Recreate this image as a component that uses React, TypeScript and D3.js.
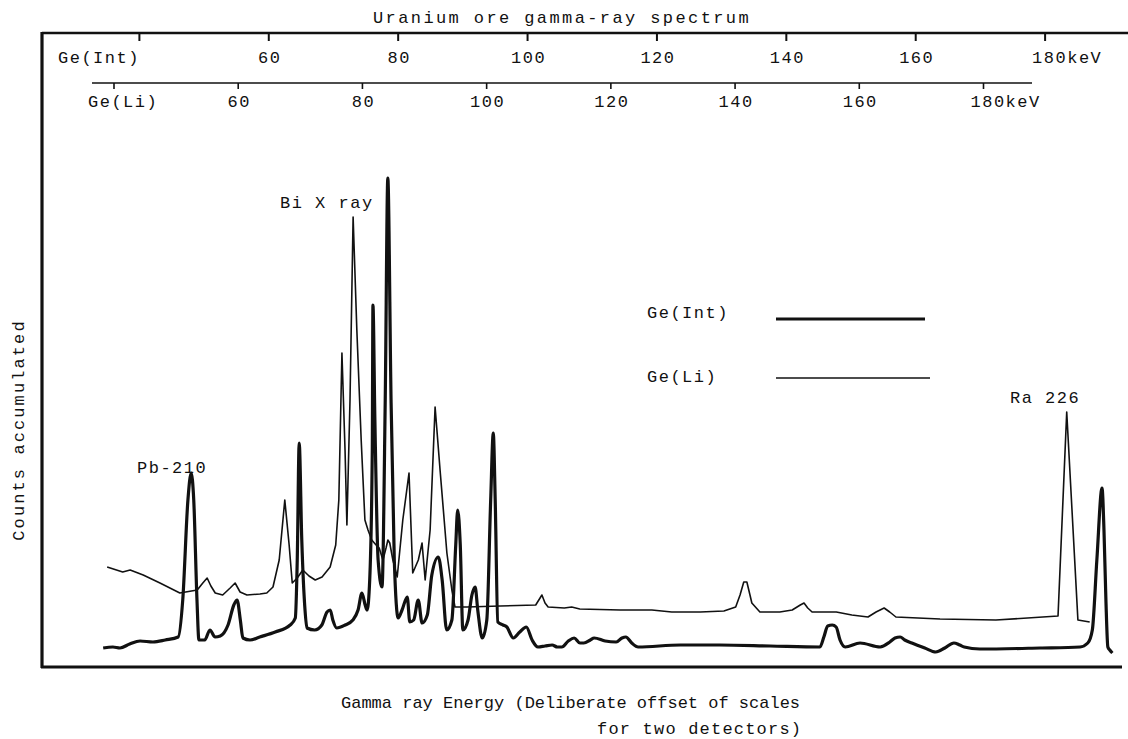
import React from 'react';
import * as d3 from 'd3';

const W = 1128;
const H = 739;

const tickValues = [40, 60, 80, 100, 120, 140, 160, 180];
const intTickLabels = ['', '60', '80', '100', '120', '140', '160', '180keV'];
const liTickLabels = ['', '60', '80', '100', '120', '140', '160', '180keV'];

// Ge(Int) spectrum (thick line), energy in keV on the Ge(Int) scale
const intEnergy = [
  34.4, 35.9, 37.0, 38.5, 40.1, 42.1, 44.0, 46.0, 46.7, 47.5,
  48.0, 48.4, 48.9, 49.2, 50.1, 50.9, 51.7, 52.5, 53.7, 54.6,
  55.1, 55.6, 56.0, 57.1, 58.6, 61.0, 63.3, 64.1, 64.4, 64.7,
  65.1, 65.6, 65.9, 67.1, 68.2, 69.0, 69.5, 69.9, 70.5, 71.8,
  73.0, 73.8, 74.4, 74.9, 75.2, 75.6, 76.0, 76.1, 76.4, 76.9,
  77.5, 78.0, 78.4, 78.9, 79.4, 80.0, 80.6, 81.4, 81.8, 82.4,
  83.1, 83.7, 84.5, 85.2, 86.2, 86.8, 87.5, 88.3, 88.9, 89.2,
  89.6, 90.0, 90.8, 91.4, 91.9, 92.3, 93.0, 93.7, 94.3, 94.7,
  95.0, 95.4, 96.2, 96.8, 97.8, 98.8, 99.8, 100.7, 101.6, 102.7,
  103.8, 104.6, 105.3, 106.3, 107.2, 108.1, 108.7, 109.7, 110.3, 112.0,
  113.7, 114.6, 115.2, 116.1, 117.1, 123.6, 129.7, 137.5, 145.2, 145.8,
  146.4, 147.1, 147.7, 148.3, 149.1, 151.4, 154.5, 156.0, 156.8, 157.6,
  158.3, 159.4, 161.4, 163.1, 164.5, 165.9, 166.8, 167.5, 169.9, 179.2,
  185.4, 186.6, 187.3, 188.0, 188.8, 189.1, 189.4, 189.7, 190.0, 190.4,
];
const intCounts = [
  19, 20, 19, 23, 26, 25, 27, 30, 67, 167,
  194, 167, 67, 27, 27, 37, 30, 31, 42, 62,
  67, 47, 29, 27, 30, 35, 42, 49, 107, 224,
  127, 57, 39, 37, 42, 55, 57, 47, 39, 42,
  47, 57, 74, 62, 57, 87, 217, 362, 247, 107,
  80, 267, 489, 267, 107, 49, 57, 70, 45, 47,
  67, 44, 52, 92, 110, 87, 37, 47, 122, 157,
  122, 37, 47, 72, 80, 57, 29, 47, 167, 234,
  167, 45, 42, 40, 29, 35, 40, 27, 20, 21,
  22, 20, 20, 26, 29, 24, 24, 27, 29, 26,
  25, 29, 30, 24, 20, 22, 22, 21, 20, 30,
  41, 42, 40, 27, 20, 24, 20, 25, 29, 30,
  27, 24, 19, 15, 19, 24, 22, 20, 18, 19,
  20, 24, 37, 107, 179, 137, 67, 20, 17, 14,
];

// Ge(Li) spectrum (thin line), energy in keV on the Ge(Li) scale
const liEnergy = [
  38.9, 41.4, 42.6, 44.7, 47.4, 50.6, 53.4, 54.3, 55.0, 55.6,
  56.3, 57.5, 58.7, 59.5, 60.3, 61.4, 63.5, 64.6, 65.6, 66.6,
  67.5, 68.2, 68.7, 69.5, 70.4, 71.4, 72.4, 73.5, 74.8, 75.7,
  76.2, 76.7, 77.2, 77.5, 78.0, 78.5, 79.1, 79.8, 80.4, 80.9,
  81.5, 82.2, 82.7, 83.3, 83.8, 84.1, 84.4, 84.9, 85.6, 86.5,
  87.5, 88.1, 89.0, 89.6, 90.1, 90.9, 91.7, 92.5, 93.6, 94.4,
  94.9, 96.8, 102.2, 107.9, 108.4, 108.9, 109.4, 109.9, 112.5, 113.7,
  115.0, 121.5, 126.6, 129.8, 134.4, 138.2, 140.1, 140.8, 141.4, 141.9,
  142.4, 142.7, 144.0, 147.2, 149.2, 150.5, 151.1, 151.7, 152.4, 156.3,
  158.8, 161.4, 162.7, 164.0, 164.9, 165.9, 173.0, 182.0, 192.0, 193.4,
  195.2, 197.1,
];
const liCounts = [
  100, 95, 97, 92, 84, 74, 77, 84, 89, 81,
  74, 72, 79, 84, 75, 72, 73, 74, 80, 107,
  167, 122, 84, 89, 97, 91, 87, 90, 100, 122,
  167, 314, 217, 142, 267, 450, 337, 227, 147, 137,
  127, 122, 119, 107, 119, 127, 124, 107, 90, 147,
  194, 94, 107, 124, 87, 137, 260, 197, 114, 77,
  60, 60, 61, 62, 67, 72, 64, 60, 59, 60,
  58, 57, 57, 55, 55, 56, 60, 72, 85, 85,
  72, 64, 55, 55, 57, 62, 64, 59, 55, 55,
  52, 50, 55, 59, 55, 50, 48, 47, 51, 255,
  47, 45,
];

const MONO = "'Liberation Mono', 'DejaVu Sans Mono', monospace";

export default function App() {
  const xInt = d3.scaleLinear().domain([40, 180]).range([139.4, 1045.1]);
  const xLi = d3.scaleLinear().domain([40, 180]).range([114, 983.5]);
  const y = d3.scaleLinear().domain([0, 634]).range([667, 33]);

  const intData = intEnergy.map((e, i) => [e, intCounts[i]] as [number, number]);
  const liData = liEnergy.map((e, i) => [e, liCounts[i]] as [number, number]);

  const intLine = d3
    .line<[number, number]>()
    .x((d) => xInt(d[0]))
    .y((d) => y(d[1]))
    .curve(d3.curveMonotoneX);
  const liLine = d3
    .line<[number, number]>()
    .x((d) => xLi(d[0]))
    .y((d) => y(d[1]))
    .curve(d3.curveLinear);

  const txt = { fontFamily: MONO, fontSize: 17, letterSpacing: 1.5, fill: '#111' } as const;

  return (
    <svg width={W} height={H} style={{ position: 'absolute', left: 0, top: 0, background: '#fff' }}>
      <rect x={0} y={0} width={W} height={H} fill="#fff" />
      {/* title */}
      <text x={373} y={23} style={{ ...txt, letterSpacing: 2.4 }}>
        Uranium ore gamma-ray spectrum
      </text>
      {/* frame */}
      <line x1={42} x2={W} y1={33} y2={33} stroke="#111" strokeWidth={2.6} />
      <line x1={42} x2={42} y1={32} y2={668} stroke="#111" strokeWidth={3.2} />
      <line x1={41} x2={1122} y1={667} y2={667} stroke="#111" strokeWidth={3} />

      {/* Ge(Int) axis (top) */}
      {tickValues.map((v, i) => (
        <g key={'it' + v}>
          <line x1={xInt(v)} x2={xInt(v)} y1={33} y2={41} stroke="#111" strokeWidth={2} />
          {intTickLabels[i] !== '' && (
            <text
              x={i === tickValues.length - 1 ? xInt(v) - 13 : xInt(v) + 1}
              y={63}
              textAnchor={i === tickValues.length - 1 ? 'start' : 'middle'}
              style={txt}
            >
              {intTickLabels[i]}
            </text>
          )}
        </g>
      ))}
      <text x={58} y={63} style={txt}>Ge(Int)</text>

      {/* Ge(Li) axis */}
      <line x1={92} x2={1032} y1={83} y2={83} stroke="#111" strokeWidth={1.6} />
      {tickValues.map((v, i) => (
        <g key={'lt' + v}>
          <line x1={xLi(v)} x2={xLi(v)} y1={83} y2={89} stroke="#111" strokeWidth={1.6} />
          {liTickLabels[i] !== '' && (
            <text
              x={i === tickValues.length - 1 ? xLi(v) - 13 : xLi(v) + 1}
              y={107}
              textAnchor={i === tickValues.length - 1 ? 'start' : 'middle'}
              style={txt}
            >
              {liTickLabels[i]}
            </text>
          )}
        </g>
      ))}
      <text x={88} y={107} style={txt}>Ge(Li)</text>

      {/* spectra */}
      <path d={liLine(liData) || ''} fill="none" stroke="#111" strokeWidth={1.6} strokeLinejoin="round" />
      <path d={intLine(intData) || ''} fill="none" stroke="#111" strokeWidth={3.2} strokeLinejoin="round" />

      {/* peak labels */}
      <text x={137} y={473} style={txt}>Pb-210</text>
      <text x={280} y={208} style={txt}>Bi X ray</text>
      <text x={1010} y={403} style={txt}>Ra 226</text>

      {/* legend */}
      <text x={647} y={318} style={txt}>Ge(Int)</text>
      <line x1={776} x2={925} y1={319} y2={319} stroke="#111" strokeWidth={3} />
      <text x={647} y={382} style={txt}>Ge(Li)</text>
      <line x1={776} x2={930} y1={378} y2={378} stroke="#111" strokeWidth={1.6} />

      {/* y label */}
      <text
        transform="translate(24,430) rotate(-90)"
        textAnchor="middle"
        style={{ ...txt, letterSpacing: 2.1 }}
      >
        Counts accumulated
      </text>

      {/* x label */}
      <text x={341} y={708} style={{ ...txt, letterSpacing: 0 }}>
        Gamma ray Energy (Deliberate offset of scales
      </text>
      <text x={597} y={734} style={{ ...txt, letterSpacing: 1.2 }}>
        for two detectors)
      </text>
    </svg>
  );
}
